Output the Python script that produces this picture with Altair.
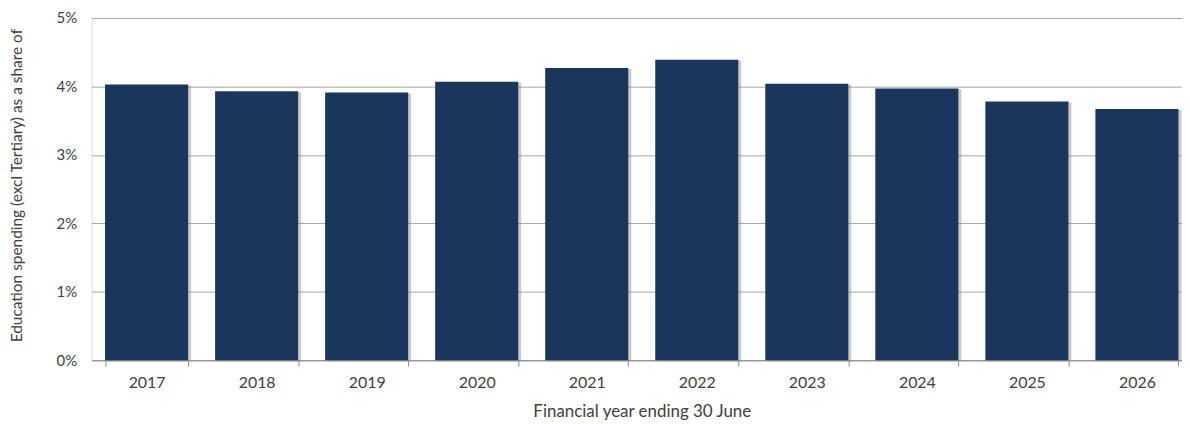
import altair as alt
import pandas as pd

years = ["2017", "2018", "2019", "2020", "2021", "2022", "2023", "2024", "2025", "2026"]
share_pct = [4.03, 3.93, 3.91, 4.07, 4.27, 4.39, 4.04, 3.97, 3.78, 3.67]
y_ticks = [0, 0.01, 0.02, 0.03, 0.04, 0.05]

df = pd.DataFrame({"year": years, "share": [v / 100 for v in share_pct]})

FONT = "Lato"
TXT = "#404040"

x_enc = alt.X(
    "year:N",
    sort=years,
    scale=alt.Scale(paddingInner=0.245, paddingOuter=0.1225),
    axis=alt.Axis(
        title="Financial year ending 30 June",
        labelAngle=0,
        labelFont=FONT,
        labelFontSize=16,
        labelColor=TXT,
        labelPadding=8,
        tickBand="extent",
        tickSize=6,
        tickColor="#8c8c8c",
        domainColor="#8c8c8c",
        grid=False,
        titleFont=FONT,
        titleFontSize=17,
        titleFontWeight="normal",
        titleColor=TXT,
        titleY=52,
        titleBaseline="middle",
    ),
)

y_enc = alt.Y(
    "share:Q",
    scale=alt.Scale(domain=[0, 0.05], nice=False),
    axis=alt.Axis(
        title="Education spending (excl Tertiary) as a share of",
        values=y_ticks,
        format=".0%",
        domain=False,
        ticks=False,
        grid=True,
        gridColor="#a6a6a6",
        gridWidth=1,
        labelFont=FONT,
        labelFontSize=15,
        labelColor=TXT,
        labelPadding=15,
        titleFont=FONT,
        titleFontSize=15.5,
        titleFontWeight="normal",
        titleColor=TXT,
        titleAngle=270,
        titleX=-75,
        titleY=168,
        titleAlign="center",
        titleBaseline="middle",
    ),
)

base = alt.Chart(df)

shadow = base.mark_bar(color="#8a8a8a", opacity=0.45, xOffset=3, yOffset=1).encode(
    x=x_enc, y=y_enc
)
bars = base.mark_bar(color="#1a365d").encode(x=x_enc, y=y_enc)

chart = (
    alt.layer(shadow, bars)
    .properties(
        width=1106,
        height=344,
        autosize=alt.AutoSizeParams(type="none"),
        padding={"left": 84, "top": 9, "right": -10, "bottom": 63},
    )
    .configure_view(stroke=None)
    .configure(background="white")
)

chart.save("out.html", embed_options={"renderer": "svg", "actions": False})
